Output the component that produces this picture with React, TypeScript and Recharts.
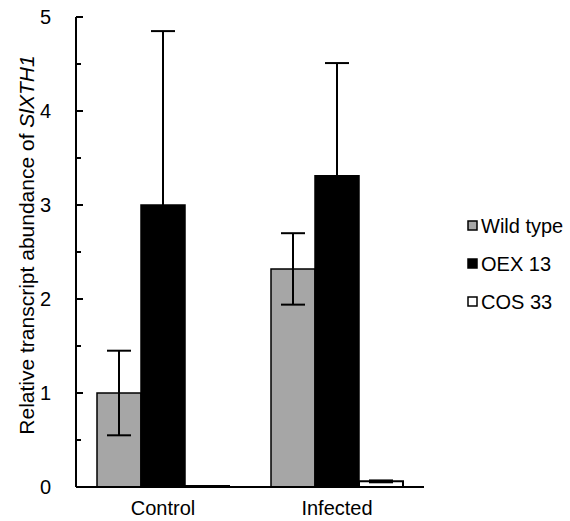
import React from "react";
import { BarChart, Bar, XAxis, YAxis, ErrorBar } from "recharts";

const categories = ["Control", "Infected"];
const wildType = [1.0, 2.32];
const wildTypeErr = [0.45, 0.38];
const oex13 = [3.0, 3.31];
const oex13Err = [1.85, 1.2];
const cos33 = [0.01, 0.06];
const cos33Err = [0.0, 0.01];
const yTicks = [0, 0.5, 1, 1.5, 2, 2.5, 3, 3.5, 4, 4.5, 5];

const seriesNames = ["Wild type", "OEX 13", "COS 33"];
const seriesFills = ["#a6a6a6", "#000000", "#ffffff"];

const data = categories.map((c, i) => ({
  name: c,
  wt: wildType[i],
  wtErr: wildTypeErr[i],
  oex: oex13[i],
  oexErr: oex13Err[i],
  cos: cos33[i],
  cosErr: cos33Err[i],
}));

const FONT = "'Liberation Sans', Arial, sans-serif";

const YTick = (props: any) => {
  const { x, y, payload } = props;
  const v = payload.value as number;
  const major = Number.isInteger(v);
  return (
    <g>
      <line x1={x} x2={x + (major ? 7 : 5)} y1={y} y2={y} stroke="#000" strokeWidth={2} />
      {major && (
        <text x={x - 25} y={y} dy="0.36em" textAnchor="end" fontSize={20} fill="#000" fontFamily={FONT}>
          {v}
        </text>
      )}
    </g>
  );
};

const LegendBox = () => (
  <svg
    width={110}
    height={100}
    style={{ position: "absolute", left: 467, top: 216, overflow: "visible" }}
  >
    {seriesNames.map((n, i) => (
      <g key={n} transform={`translate(0, ${10 + i * 38})`}>
        <rect x={1} y={-5} width={9} height={9} fill={seriesFills[i]} stroke="#000" strokeWidth={1.5} />
        <text x={14} y={0} dy="0.36em" fontSize={20} fontFamily={FONT} fill="#000">
          {n}
        </text>
      </g>
    ))}
  </svg>
);

export default function App() {
  return (
    <div style={{ position: "absolute", left: 0, top: 0, width: 570, height: 521, background: "#fff" }}>
      <BarChart
        width={570}
        height={521}
        data={data}
        margin={{ top: 17, right: 146, bottom: 4, left: 0 }}
        barCategoryGap={21}
        barGap={0}
      >
        <XAxis
          dataKey="name"
          tickLine={false}
          axisLine={{ stroke: "#000", strokeWidth: 2 }}
          tickSize={0}
          tickMargin={14}
          height={30}
          tick={{ fontSize: 20, fill: "#000", fontFamily: FONT }}
        />
        <YAxis
          width={76}
          domain={[0, 5]}
          ticks={yTicks}
          interval={0}
          tickLine={false}
          tickSize={0}
          tickMargin={0}
          axisLine={{ stroke: "#000", strokeWidth: 2 }}
          tick={<YTick />}
          label={() => (
            <text
              x={26}
              y={245}
              transform="rotate(-90 26 245)"
              textAnchor="middle"
              dominantBaseline="central"
              fontSize={21}
              fontFamily={FONT}
              fill="#000"
            >
              Relative transcript abundance of <tspan fontStyle="italic">SlXTH1</tspan>
            </text>
          )}
        />
        <Bar dataKey="wt" name={seriesNames[0]} fill={seriesFills[0]} stroke="#000" strokeWidth={1.5} isAnimationActive={false}>
          <ErrorBar dataKey="wtErr" width={12} stroke="#000" strokeWidth={2} direction="y" />
        </Bar>
        <Bar dataKey="oex" name={seriesNames[1]} fill={seriesFills[1]} stroke="#000" strokeWidth={1.5} isAnimationActive={false}>
          <ErrorBar dataKey="oexErr" width={12} stroke="#000" strokeWidth={2} direction="y" />
        </Bar>
        <Bar dataKey="cos" name={seriesNames[2]} fill={seriesFills[2]} stroke="#000" strokeWidth={2} isAnimationActive={false}>
          <ErrorBar dataKey="cosErr" width={12} stroke="#000" strokeWidth={2} direction="y" />
        </Bar>
      </BarChart>
      <LegendBox />
    </div>
  );
}
